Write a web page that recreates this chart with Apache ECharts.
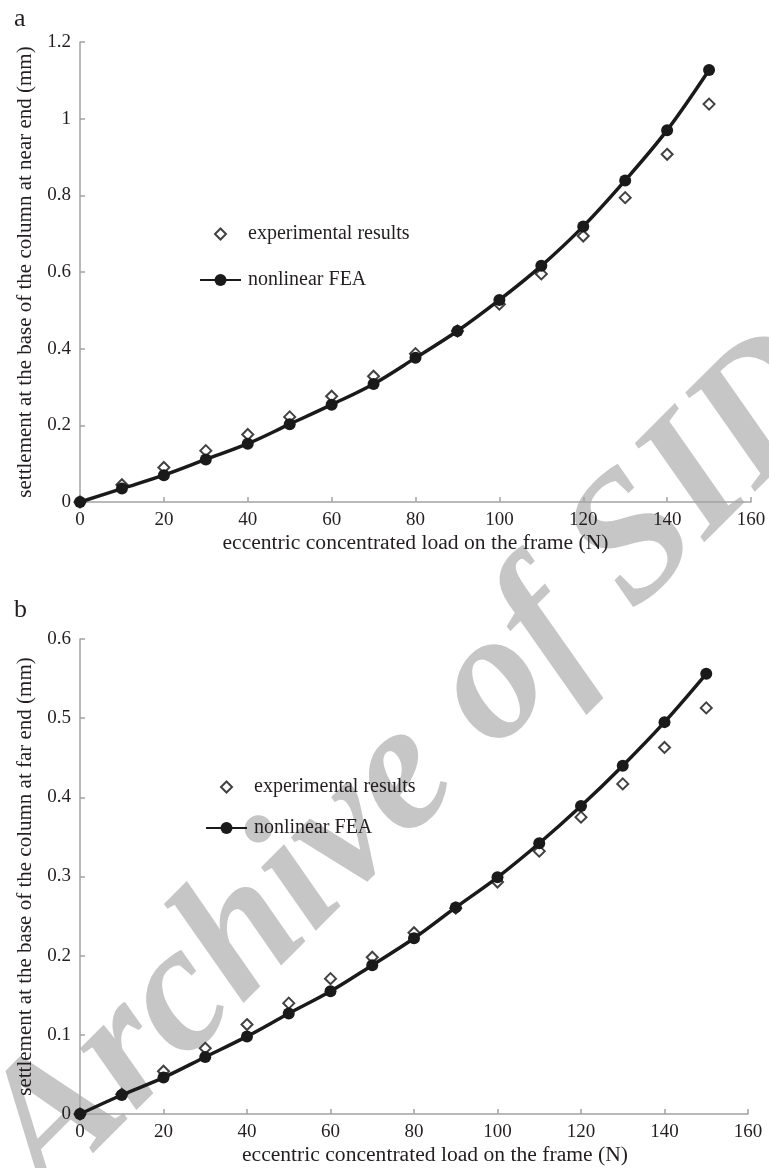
<!DOCTYPE html>
<html><head><meta charset="utf-8">
<script src="https://cdn.jsdelivr.net/npm/echarts@6/dist/echarts.min.js"></script>
<style>html,body{margin:0;padding:0;background:#fff}#c{width:769px;height:1168px}</style>
</head><body><div id="c"></div><script>
const loads = [0,10,20,30,40,50,60,70,80,90,100,110,120,130,140,150];
const nearFEA = [0,0.035,0.070,0.111,0.152,0.203,0.254,0.308,0.376,0.446,0.527,0.616,0.719,0.839,0.970,1.127];
const nearExp = [0,0.045,0.090,0.134,0.176,0.222,0.276,0.328,0.387,0.446,0.516,0.595,0.694,0.794,0.907,1.038];
const farFEA = [0,0.024,0.046,0.072,0.098,0.127,0.155,0.188,0.222,0.261,0.299,0.342,0.389,0.440,0.495,0.556];
const farExp = [0,0.025,0.054,0.083,0.113,0.140,0.171,0.198,0.229,0.260,0.293,0.332,0.375,0.417,0.463,0.513];
const seriesNames = ['experimental results','nonlinear FEA'];
const xTitle = 'eccentric concentrated load on the frame (N)';
const yTitleNear = 'settlement at the base of the column at near end (mm)';
const yTitleFar = 'settlement at the base of the column at far end (mm)';
const panelLabels = ['a','b'];
const watermark = 'Archive of SID';

const FONT = '"Liberation Serif","Times New Roman",serif';
const TXT = '#231f20';
const AX = '#a3a3a3';
const pair = (xs, ys) => xs.map((x,i)=>[x, ys[i]]);

function xAxis(gi, padLeft){
  return {type:'value', gridIndex:gi, min:0, max:160, interval:20,
    name: xTitle, nameLocation:'middle', nameGap:30,
    nameTextStyle:{fontFamily:FONT, fontSize:21.6, color:TXT, padding:[0,0,0,padLeft]},
    axisLine:{lineStyle:{color:AX, width:1.5}},
    axisTick:{inside:true, length:5, lineStyle:{color:AX, width:1.5}},
    axisLabel:{fontFamily:FONT, fontSize:19, color:TXT, margin:9},
    splitLine:{show:false}};
}
function yAxis(gi, max, interval, title){
  return {type:'value', gridIndex:gi, min:0, max:max, interval:interval,
    name: title, nameLocation:'middle', nameGap:44, nameRotate:90,
    nameTextStyle:{fontFamily:FONT, fontSize:21, color:TXT},
    axisLine:{show:true, lineStyle:{color:AX, width:1.5}},
    axisTick:{show:true, inside:true, length:5, lineStyle:{color:AX, width:1.5}},
    axisLabel:{fontFamily:FONT, fontSize:19, color:TXT, margin:9},
    splitLine:{show:false}};
}
function expSeries(gi, data){
  return {name:seriesNames[0], type:'scatter', xAxisIndex:gi, yAxisIndex:gi,
    data: pair(loads, data), symbol:'diamond', symbolSize:[11,11], z:2,
    itemStyle:{color:'#ffffff', borderColor:'#111', borderWidth:2}};
}
function feaSeries(gi, data){
  return {name:seriesNames[1], type:'line', xAxisIndex:gi, yAxisIndex:gi,
    data: pair(loads, data), smooth:0.35, symbol:'circle', symbolSize:12, z:3,
    showSymbol:true,
    lineStyle:{color:'#1a1a1a', width:3.5},
    itemStyle:{color:'#1a1a1a', borderWidth:0}};
}
function leg(name, left, top, w, h, pad){
  return {data:[name], left:left, top:top, itemWidth:w, itemHeight:h, padding:0,
    textStyle:{fontFamily:FONT, fontSize:20, color:TXT, padding:[0,0,0,pad]}, selectedMode:false};
}

const chart = echarts.init(document.getElementById('c'), null, {renderer:'canvas'});
chart.setOption({
  backgroundColor:'#ffffff',
  animation:false,
  title:[
    {text:panelLabels[0], left:14, top:6, padding:0, textStyle:{fontFamily:FONT, fontSize:26, fontWeight:'normal', color:TXT}},
    {text:panelLabels[1], left:14, top:597, padding:0, textStyle:{fontFamily:FONT, fontSize:26, fontWeight:'normal', color:TXT}}
  ],
  grid:[
    {left:80, right:18, top:42, height:460},
    {left:80, right:21, top:639, height:475}
  ],
  xAxis:[xAxis(0,0), xAxis(1,42)],
  yAxis:[yAxis(0,1.2,0.2,yTitleNear), yAxis(1,0.6,0.1,yTitleFar)],
  legend:[
    leg(seriesNames[0], 214, 224, 11, 11, 17),
    leg(seriesNames[1], 199, 270, 41, 15, 2),
    leg(seriesNames[0], 220, 777, 11, 11, 17),
    leg(seriesNames[1], 205, 818, 41, 15, 2)
  ],
  graphic:[{
    type:'text', x:415, y:765, rotation:45*Math.PI/180, z:-10, silent:true,
    style:{text:watermark, font:'italic bold 182px "Liberation Serif"', fill:'#c6c6c6',
      align:'center', verticalAlign:'middle', textAlign:'center', textVerticalAlign:'middle'}
  }],
  series:[
    expSeries(0, nearExp), feaSeries(0, nearFEA),
    expSeries(1, farExp), feaSeries(1, farFEA)
  ]
});
</script></body></html>
